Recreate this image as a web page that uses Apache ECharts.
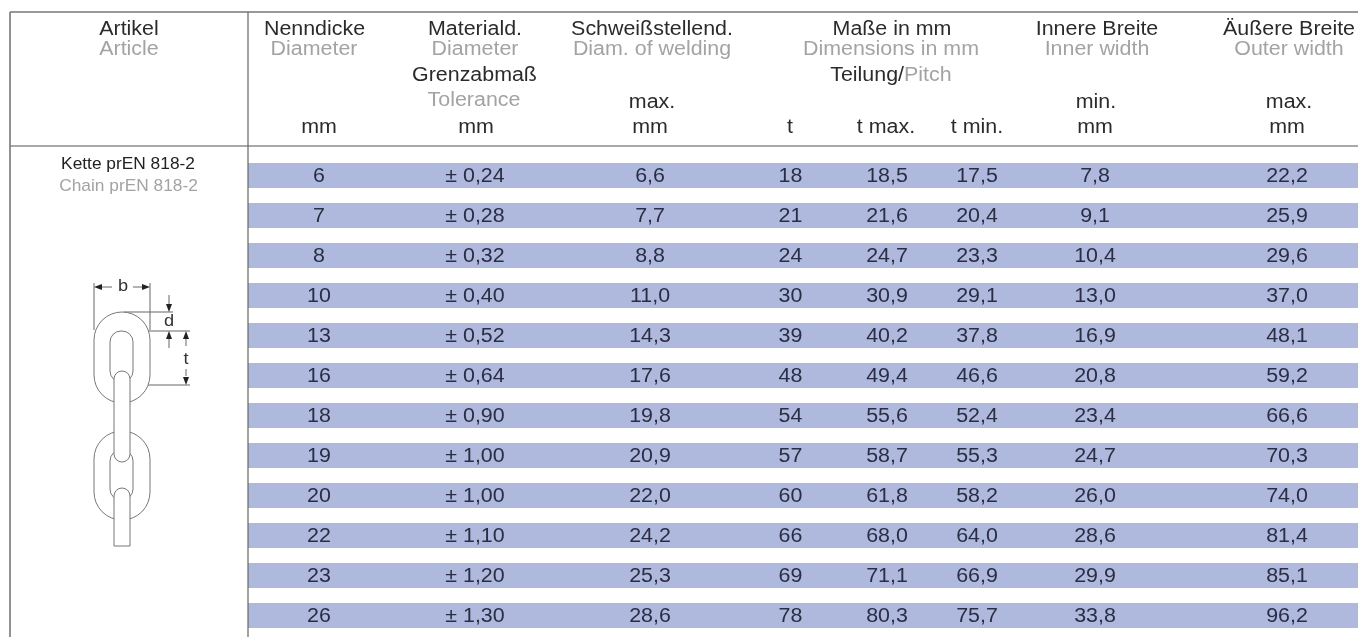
<!DOCTYPE html>
<html><head><meta charset="utf-8">
<style>html,body{margin:0;padding:0;background:#fff}#c{width:1358px;height:637px}</style>
<script src="https://cdn.jsdelivr.net/npm/echarts@6/dist/echarts.min.js"></script>
</head><body><div id="c"></div>
<script>
const diameter  = [6,7,8,10,13,16,18,19,20,22,23,26];
const tolerance = [0.24,0.28,0.32,0.40,0.52,0.64,0.90,1.00,1.00,1.10,1.20,1.30];
const weldMax   = [6.6,7.7,8.8,11.0,14.3,17.6,19.8,20.9,22.0,24.2,25.3,28.6];
const pitch     = [18,21,24,30,39,48,54,57,60,66,69,78];
const pitchMax  = [18.5,21.6,24.7,30.9,40.2,49.4,55.6,58.7,61.8,68.0,71.1,80.3];
const pitchMin  = [17.5,20.4,23.3,29.1,37.8,46.6,52.4,55.3,58.2,64.0,66.9,75.7];
const innerMin  = [7.8,9.1,10.4,13.0,16.9,20.8,23.4,24.7,26.0,28.6,29.9,33.8];
const outerMax  = [22.2,25.9,29.6,37.0,48.1,59.2,66.6,70.3,74.0,81.4,85.1,96.2];

const FONT = '"Liberation Sans", Arial, sans-serif';
const DARK = '#2b2b2b', GREY = '#a3a3a3', ROW = '#2a2e45', BAND = '#aeb9dd', LINE = '#6e6e6e';
const SIZE = 20, STRETCH = 1.07;

const comma = (v, d) => v.toFixed(d).replace('.', ',');
const columns = [
  {x: 319,  f: i => String(diameter[i])},
  {x: 475,  f: i => '± ' + comma(tolerance[i], 2)},
  {x: 650,  f: i => comma(weldMax[i], 1)},
  {x: 790.5,f: i => String(pitch[i])},
  {x: 887,  f: i => comma(pitchMax[i], 1)},
  {x: 977,  f: i => comma(pitchMin[i], 1)},
  {x: 1095, f: i => comma(innerMin[i], 1)},
  {x: 1287, f: i => comma(outerMax[i], 1)}
];

const t = (text, x, y, fill, size, align) => ({
  type: 'text', z: 10, x, y, scaleX: STRETCH,
  style: {text, fill: fill || DARK, font: (size || SIZE) + 'px ' + FONT,
          textAlign: align || 'center', textVerticalAlign: 'middle'}
});
const headerTexts = [
  t('Artikel', 129, 29), t('Article', 129, 49, GREY),
  t('Nenndicke', 314.5, 29), t('Diameter', 314, 49, GREY), t('mm', 319, 127),
  t('Materiald.', 475, 29), t('Diameter', 475, 49, GREY), t('Grenzabmaß', 474.5, 75), t('Tolerance', 474, 100, GREY), t('mm', 476, 127),
  t('Schweißstellend.', 652, 29), t('Diam. of welding', 652, 49, GREY), t('max.', 652, 102), t('mm', 650, 127),
  t('Maße in mm', 892, 29), t('Dimensions in mm', 891, 49, GREY),
  t('Teilung/', 904, 75, DARK, SIZE, 'right'), t('Pitch', 904, 75, GREY, SIZE, 'left'),
  t('t', 790, 127), t('t max.', 886, 127), t('t min.', 977, 127),
  t('Innere Breite', 1097, 29), t('Inner width', 1097, 49, GREY), t('min.', 1096, 102), t('mm', 1095, 127),
  t('Äußere Breite', 1289, 29), t('Outer width', 1289, 49, GREY), t('max.', 1289, 102), t('mm', 1287, 127),
  t('Kette prEN 818-2', 128, 165, '#222', 16.2), t('Chain prEN 818-2', 128.5, 187, GREY, 16.2)
];

const ln = (x1, y1, x2, y2, color, w) => ({
  type: 'line', z: 5, silent: true,
  shape: {x1, y1, x2, y2}, style: {stroke: color || LINE, lineWidth: w || 1}
});
const frame = [
  ln(10, 12, 1358, 12, '#777', 1.4), ln(10, 146, 1358, 146, '#555', 1.2),
  ln(10, 12, 10, 637, '#777', 1.6), ln(248, 12, 248, 637, '#666', 1.2)
];

const rr = (x, y, w, h, r, z) => ({
  type: 'rect', z: z, silent: true,
  shape: {x, y, width: w, height: h, r},
  style: {fill: '#fff', stroke: '#777', lineWidth: 1}
});
const tri = (pts) => ({type: 'polygon', z: 9, silent: true, shape: {points: pts}, style: {fill: '#222'}});
const DIM = '#666';
const diagram = [
  rr(94, 312, 56, 91, 28, 6), rr(110, 331, 23, 51, 11, 7),
  rr(94, 431, 56, 89, 28, 6), rr(110, 450, 23, 50, 11, 7),
  rr(114, 371, 16, 91, 8, 8),
  rr(114, 488, 16, 58, [8, 8, 0, 0], 8),
  ln(94, 283, 94, 330, DIM), ln(150, 283, 150, 330, DIM),
  ln(102, 287, 112, 287, DIM), ln(133, 287, 142, 287, DIM),
  tri([[94, 287], [102, 284], [102, 290]]), tri([[150, 287], [142, 284], [142, 290]]),
  t('b', 123, 286, '#333', 17),
  ln(124, 312, 173, 312, DIM), ln(122, 331, 190, 331, DIM), ln(122, 385, 190, 385, DIM),
  ln(169, 295, 169, 304, DIM), tri([[169, 312], [166, 304], [172, 304]]),
  t('d', 169, 321, '#333', 17),
  tri([[169, 331], [166, 339], [172, 339]]), ln(169, 339, 169, 348, DIM),
  tri([[186, 331], [183, 339], [189, 339]]), ln(186, 339, 186, 346, DIM),
  t('t', 186, 359, '#333', 17),
  ln(186, 369, 186, 376, DIM), tri([[186, 385], [183, 377], [189, 377]])
];

const rowNames = diameter.map(String);
const chart = echarts.init(document.getElementById('c'), null, {renderer: 'canvas'});
chart.setOption({
  animation: false,
  backgroundColor: '#fff',
  tooltip: {show: false},
  grid: {left: 248, right: 0, top: 155.5, bottom: 1.5},
  xAxis: {type: 'value', min: 248, max: 1358, show: false},
  yAxis: {type: 'category', inverse: true, data: rowNames, show: false},
  series: [
    {type: 'bar', data: rowNames.map(() => 1358), barWidth: 25, silent: true,
     itemStyle: {color: BAND}}
  ].concat(columns.map(col => ({
    type: 'custom', silent: true, z: 4, clip: false,
    encode: {x: 0, y: 1},
    data: rowNames.map((_, i) => [col.x, i]),
    renderItem: (params, api) => {
      const p = api.coord([api.value(0), api.value(1)]);
      return {
        type: 'text', x: p[0], y: p[1] + 0.5, scaleX: STRETCH,
        style: {text: col.f(params.dataIndex), fill: ROW, font: SIZE + 'px ' + FONT,
                textAlign: 'center', textVerticalAlign: 'middle'}
      };
    }
  }))),
  graphic: {elements: frame.concat(diagram, headerTexts)}
});
</script></body></html>
